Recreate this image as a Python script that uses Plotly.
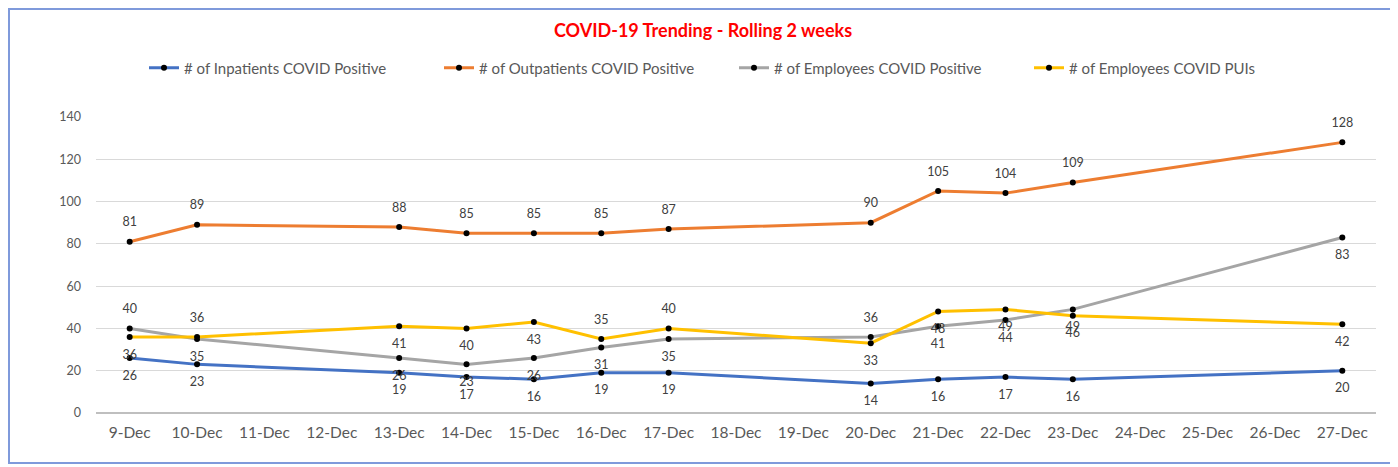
import plotly.graph_objects as go

dates = ["9-Dec", "10-Dec", "11-Dec", "12-Dec", "13-Dec", "14-Dec", "15-Dec", "16-Dec", "17-Dec",
         "18-Dec", "19-Dec", "20-Dec", "21-Dec", "22-Dec", "23-Dec", "24-Dec", "25-Dec", "26-Dec", "27-Dec"]
inpatients = [26, 23, None, None, 19, 17, 16, 19, 19, None, None, 14, 16, 17, 16, None, None, None, 20]
outpatients = [81, 89, None, None, 88, 85, 85, 85, 87, None, None, 90, 105, 104, 109, None, None, None, 128]
employees_pos = [40, 35, None, None, 26, 23, 26, 31, 35, None, None, 36, 41, 44, 49, None, None, None, 83]
employees_pui = [36, 36, None, None, 41, 40, 43, 35, 40, None, None, 33, 48, 49, 46, None, None, None, 42]

T, B = "top center", "bottom center"
gray_pos = [T, B, B, B, B, B, B, B, B, B, B, T, B, B, B, B, B, B, B]
yellow_pos = [B, T, B, B, B, B, B, T, T, B, B, B, B, B, B, B, B, B, B]

series = [
    ("# of Inpatients COVID Positive", inpatients, "#4472C4", B),
    ("# of Outpatients COVID Positive", outpatients, "#ED7D31", T),
    ("# of Employees COVID Positive", employees_pos, "#A5A5A5", gray_pos),
    ("# of Employees COVID PUIs", employees_pui, "#FFC000", yellow_pos),
]

FONT = "Lato, Open Sans, sans-serif"

fig = go.Figure()
for name, vals, color, pos in series:
    fig.add_trace(go.Scatter(
        x=dates, y=vals, name=name, mode="lines+markers",
        connectgaps=True,
        line=dict(color=color, width=3),
        marker=dict(color="black", size=6),
    ))
# data labels (invisible big markers push the labels away from the points)
for name, vals, color, pos in series:
    fig.add_trace(go.Scatter(
        x=dates, y=vals, mode="markers+text", showlegend=False, hoverinfo="skip",
        marker=dict(size=18, opacity=0),
        text=[("" if v is None else str(v)) for v in vals],
        textposition=pos,
        textfont=dict(family=FONT, size=12.5, color="#404040"),
        cliponaxis=False,
    ))

# page body has an 8px margin, so everything is placed 8px up/left
W, H = 1390, 459
L, R, TOP, BOT = 88, 22, 109, 54

fig.update_layout(
    width=W, height=H,
    margin=dict(l=L, r=R, t=TOP, b=BOT),
    paper_bgcolor="white", plot_bgcolor="white",
    font=dict(family=FONT, color="#595959"),
    title=dict(text="<b>COVID-19 Trending - Rolling 2 weeks</b>", x=0.5, xanchor="center",
               yref="container", y=1 - 23 / H, yanchor="middle",
               font=dict(size=18, color="#FF0000", family=FONT)),
    legend=dict(orientation="h", x=(136 - L) / 1280, xanchor="left",
                yref="container", y=1 - 60 / H, yanchor="middle",
                entrywidth=250, entrywidthmode="pixels",
                font=dict(size=15, color="#595959")),
    showlegend=True,
)
fig.update_xaxes(type="category", range=[-0.5, len(dates) - 0.5], showgrid=False,
                 showline=False, ticks="",
                 tickfont=dict(size=15.5, color="#595959"), ticklabelstandoff=8)
fig.update_yaxes(range=[0, 140], dtick=20, showgrid=True, gridcolor="#D9D9D9", gridwidth=1,
                 zeroline=True, zerolinecolor="#BFBFBF", zerolinewidth=1.5,
                 showline=False, ticks="", ticklabelstandoff=14,
                 tickfont=dict(size=12.5, color="#595959"))

# outer chart border
fig.add_shape(type="rect", xref="paper", yref="paper",
              x0=(1 - L) / 1280, x1=(1385 - L) / 1280,
              y0=(405 - 455) / 296, y1=(405 - 1) / 296,
              line=dict(color="#7F9ADB", width=2))

fig.write_html("out.html")
